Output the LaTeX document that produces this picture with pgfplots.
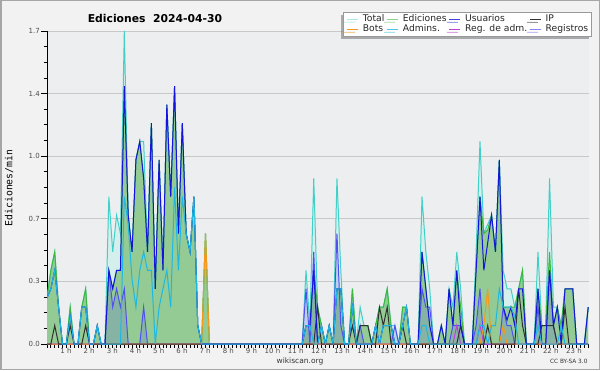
\documentclass[border=0pt]{standalone}
\usepackage{fontspec}
\setmainfont{DejaVu Sans}
\newfontfamily\monofont{DejaVu Sans Mono}
\usepackage{pgfplots}
\pgfplotsset{compat=1.18}
\usepackage{pgfplotstable}
\usetikzlibrary{shadows}

\definecolor{outerbg}{HTML}{F2F2F2}
\definecolor{plotbg}{HTML}{ECEEF0}
\definecolor{gridc}{HTML}{C8C8C8}
\definecolor{totline}{HTML}{40D0C8}
\definecolor{totfill}{HTML}{D4EFEC}
\definecolor{edline}{HTML}{3CB83C}
\definecolor{edfill}{HTML}{94CA94}
\definecolor{usuc}{HTML}{1414DC}
\definecolor{ipc}{HTML}{303030}
\definecolor{botc}{HTML}{F39A1E}
\definecolor{admc}{HTML}{1EB8E0}
\definecolor{radc}{HTML}{C040D8}
\definecolor{regc}{HTML}{5050F0}

\pgfplotstableread{
i tot ed usu ip bot adm rad reg
0 0.25 0.25 0.25 0 0 0.25 0 0
1 0.4 0.4 0.3 0 0 0.3 0 0
2 0.5 0.5 0.4 0.1 0 0.4 0 0
3 0.2 0.2 0.2 0 0 0.2 0 0
4 0 0 0 0 0 0 0 0
5 0 0 0 0 0 0 0 0
6 0.2 0.2 0.15 0.1 0 0.15 0 0
7 0 0 0 0 0 0 0 0
8 0 0 0 0 0 0 0 0
9 0.2 0.2 0.2 0 0 0.2 0 0
10 0.3 0.3 0.2 0.1 0 0.2 0 0
11 0 0 0 0 0 0 0 0
12 0 0 0 0 0 0 0 0
13 0.1 0.1 0.1 0 0 0.1 0 0
14 0 0 0 0 0 0 0 0
15 0 0 0 0 0 0 0 0
16 0.8 0.4 0.4 0 0 0 0 0.4
17 0.5 0.3 0.3 0 0 0 0 0.2
18 0.7 0.4 0.4 0 0 0 0 0.3
19 0.6 0.4 0.4 0 0 0 0 0.2
20 1.7 1.4 1.4 0 0 0.8 0 0.3
21 0.7 0.7 0.7 0 0 0.65 0 0
22 0.5 0.5 0.5 0 0 0.35 0 0
23 1.0 1.0 1.0 0 0 0.2 0 0
24 1.1 1.1 1.1 0 0 0.4 0 0
25 1.1 0.9 0.9 0 0 0.5 0 0.2
26 0.5 0.5 0.5 0 0 0.4 0 0
27 1.2 1.2 1.2 0 0 0.4 0 0
28 0.3 0.3 0.3 0 0 0 0 0
29 1.0 1.0 1.0 0 0 0.2 0 0
30 0.4 0.4 0.4 0 0 0.3 0 0
31 1.3 1.3 1.3 0 0 0.4 0 0
32 0.8 0.8 0.8 0 0 0.2 0 0
33 1.4 1.4 1.4 0 0 0.85 0 0
34 0.6 0.6 0.6 0 0 0.4 0 0
35 1.2 1.2 1.2 0 0 0.8 0 0
36 0.6 0.6 0.6 0 0 0.6 0 0
37 0.5 0.5 0.5 0 0 0.5 0 0
38 0.8 0.8 0.8 0 0 0.8 0 0
39 0.1 0.1 0.1 0 0 0.1 0 0
40 0 0 0 0 0 0 0 0
41 0.6 0.6 0 0 0.6 0 0 0
42 0 0 0 0 0 0 0 0
64 0 0 0 0 0 0 0 0
65 0 0 0 0 0 0 0 0
66 0 0 0 0 0 0 0 0
67 0.4 0.1 0.1 0 0 0.1 0 0.3
68 0.1 0.1 0.1 0 0 0.1 0 0
69 0.9 0.4 0.4 0 0 0 0 0.5
70 0.2 0.2 0 0.2 0 0 0 0
71 0.1 0.1 0.1 0 0 0.1 0 0
72 0 0 0 0 0 0 0 0
73 0.1 0.1 0.1 0 0 0.1 0 0
74 0 0 0 0 0 0 0 0
75 0.9 0.3 0.3 0 0 0.3 0 0.6
76 0.4 0.3 0.3 0 0 0.3 0 0.1
77 0 0 0 0 0 0 0 0
78 0 0 0 0 0 0 0 0
79 0.3 0.3 0.2 0.1 0 0.2 0 0
80 0 0 0 0 0 0 0 0
81 0.2 0.1 0 0.1 0 0 0 0.1
82 0.1 0.1 0 0.1 0 0 0 0
83 0.1 0.1 0 0.1 0 0 0 0
84 0 0 0 0 0 0 0 0
85 0.1 0.1 0.1 0 0 0.1 0 0
86 0.2 0.2 0 0.2 0 0 0 0
87 0.2 0.2 0.1 0.1 0 0.1 0 0
88 0.3 0.3 0.1 0.2 0 0.1 0 0
89 0.1 0.1 0.1 0 0 0.1 0 0
90 0.1 0 0 0 0 0 0 0.1
91 0 0 0 0 0 0 0 0
92 0.2 0.2 0.1 0.1 0 0.1 0 0
93 0.2 0.2 0.2 0 0 0.2 0 0
94 0 0 0 0 0 0 0 0
96 0 0 0 0 0 0 0 0
97 0.8 0.5 0.5 0 0 0.1 0 0.3
98 0.5 0.3 0.3 0 0 0.1 0 0.2
99 0.3 0.1 0.1 0 0 0 0 0.2
100 0 0 0 0 0 0 0 0
101 0 0 0 0 0 0 0 0
102 0.1 0.1 0.1 0 0 0 0 0
103 0 0 0 0 0 0 0 0
104 0.3 0.3 0.3 0 0 0 0 0
105 0.2 0.1 0.1 0 0 0 0 0.1
106 0.5 0.4 0.4 0 0 0 0.1 0.1
107 0.3 0.2 0.1 0.1 0 0 0 0.1
108 0 0 0 0 0 0 0 0
110 0 0 0 0 0 0 0 0
111 0.5 0.4 0.4 0 0 0 0 0.1
112 1.1 0.8 0.8 0 0 0.1 0.1 0.3
113 0.6 0.6 0.4 0 0.1 0.1 0 0
114 0.65 0.62 0.55 0.1 0.3 0 0 0
115 0.7 0.7 0.7 0 0 0.1 0 0
116 0.5 0.5 0.5 0 0 0.1 0 0
117 1.0 1.0 1.0 0 0 0.3 0 0
118 0.4 0.2 0.2 0 0.1 0.2 0 0.2
119 0.3 0.2 0.13 0 0 0.2 0 0.1
120 0.3 0.2 0.2 0 0 0.2 0 0.1
121 0.2 0.2 0.1 0 0 0.15 0 0
122 0.3 0.3 0.3 0.3 0 0 0 0
123 0.4 0.4 0.3 0.1 0 0 0 0
124 0 0 0 0 0 0 0 0
126 0 0 0 0 0 0 0 0
127 0.5 0.3 0.3 0 0 0.1 0 0.2
128 0.1 0.1 0 0.1 0 0 0 0
129 0.1 0.1 0 0.1 0 0 0 0
130 0.9 0.5 0.4 0.1 0 0 0 0.4
131 0.2 0.1 0.1 0.1 0 0 0 0.1
132 0.2 0.2 0.2 0 0 0 0 0
133 0.1 0.1 0 0 0 0.1 0 0
134 0.3 0.3 0.3 0.2 0 0 0 0
135 0.3 0.3 0.3 0 0 0 0 0
136 0.3 0.3 0.3 0 0 0 0 0
137 0 0 0 0 0 0 0 0
139 0 0 0 0 0 0 0 0
140 0.2 0.2 0.2 0 0 0 0 0
}\data

\begin{document}
\begin{tikzpicture}
\fill[outerbg] (0pt,0pt) rectangle (600pt,370pt);
\draw[color=black!35, line width=1.5pt] (0.75pt,0.75pt) rectangle (599.25pt,369.25pt);
\begin{axis}[
  at={(47pt,26pt)}, anchor=south west,
  scale only axis, width=542pt, height=313pt,
  xmin=0, xmax=140.2, ymin=0, ymax=1.7,
  axis x line*=bottom, axis y line*=left,
  axis line style={black, line width=1pt, -},
  axis background/.style={fill=plotbg},
  tick align=outside,
  xtick={6,12,...,138},
  xticklabels={1 h,2 h,3 h,4 h,5 h,6 h,7 h,8 h,9 h,10 h,11 h,12 h,13 h,14 h,15 h,16 h,17 h,18 h,19 h,20 h,21 h,22 h,23 h},
  major x tick style={draw=none},
  minor xtick={0,1,...,140},
  minor x tick style={black, line width=0.8pt},
  xticklabel style={anchor=north east, xshift=2pt, yshift=3pt, inner sep=0.5pt},
  ytick={0,0.34,0.68,1.02,1.36,1.7},
  yticklabels={0.0,0.3,0.7,1.0,1.4,1.7},
  minor y tick num=3,
  major y tick style={black, line width=0.8pt},
  minor y tick style={black, line width=0.8pt},
  major tick length=6pt, minor tick length=3.5pt,
  yticklabel style={inner sep=1pt},
  tick label style={font=\fontsize{7}{8}\selectfont, color=black!70},
  ymajorgrids, major grid style={gridc, line width=0.8pt},
  legend columns=4,
  legend style={at={(axis description cs:1.0055,1.0607)}, anchor=north east,
    draw=black!40, fill=white, line width=0.6pt,
    font=\fontsize{9.2}{10}\selectfont, text=black!85,
    inner xsep=3pt, inner ysep=2pt, row sep=0pt,
    nodes={inner sep=0.5pt, text height=7pt, text depth=2pt},
    /tikz/every odd column/.append style={column sep=4pt},
    /tikz/every even column/.append style={column sep=1.5pt},
    drop shadow={shadow xshift=-2.5pt, shadow yshift=-2.5pt, fill=black!60}},
  legend cell align=left,
  legend image code/.code={\draw[#1, line width=1pt] (0pt,0pt) -- (11pt,0pt);},
]
\addplot[fill=totfill, draw=none, forget plot] table[x=i, y=tot] {\data} \closedcycle;
\addplot[fill=edfill, draw=none, forget plot] table[x=i, y=ed] {\data} \closedcycle;
\addplot[fill=regc, fill opacity=0.18, draw=none, forget plot] table[x=i, y=reg] {\data} \closedcycle;
\addplot[totline, line width=1pt, forget plot] table[x=i, y=tot] {\data};
\addplot[edline, line width=1pt, forget plot] table[x=i, y=ed] {\data};
\addplot[regc, line width=1pt, forget plot] table[x=i, y=reg] {\data};
\addplot[radc, line width=1pt, forget plot] table[x=i, y=rad] {\data};
\addplot[botc, line width=1pt, forget plot] table[x=i, y=bot] {\data};
\addplot[ipc, line width=1pt, forget plot] table[x=i, y=ip] {\data};
\addplot[usuc, line width=1pt, forget plot] table[x=i, y=usu] {\data};
\addplot[admc, line width=1pt, forget plot] table[x=i, y=adm] {\data};
\addlegendimage{totline!45}
\addlegendimage{edline!60}
\addlegendimage{usuc!80}
\addlegendimage{ipc}
\addlegendimage{botc}
\addlegendimage{admc!80}
\addlegendimage{radc}
\addlegendimage{regc!70}
\legend{Total,Ediciones,Usuarios,IP,Bots,Admins.,Reg. de adm.,Registros}
\end{axis}
\node[font=\bfseries\fontsize{10.8}{12}\selectfont] at (155pt,352pt) {Ediciones\ \ 2024-04-30};
\node[rotate=90, font=\monofont\fontsize{9.8}{11}\selectfont] at (9pt,182pt) {Ediciones/min};
\node[font=\fontsize{7.5}{9}\selectfont, color=black!80] at (300pt,8.5pt) {wikiscan.org};
\node[font=\fontsize{5.8}{7}\selectfont, color=black!80, anchor=east] at (591pt,8.5pt) {CC BY-SA 3.0};
\end{tikzpicture}
\end{document}
